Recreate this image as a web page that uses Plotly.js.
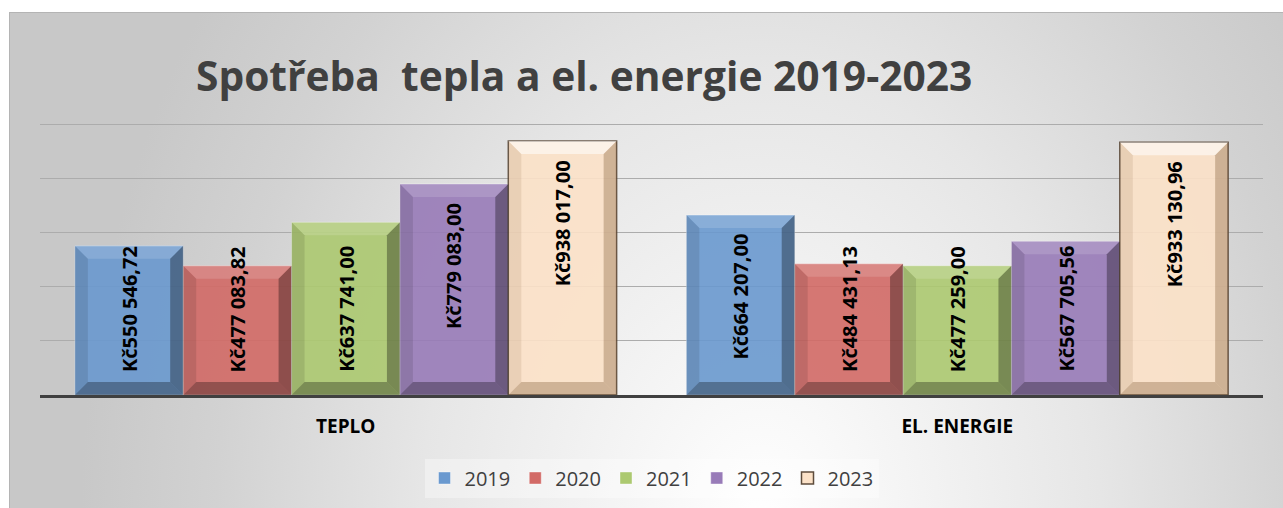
<!DOCTYPE html>
<html><head><meta charset="utf-8">
<script src="https://cdn.plot.ly/plotly-3.0.1.min.js"></script>
<style>
html,body{margin:0;padding:0;background:#fff;width:1283px;height:508px;overflow:hidden}
#bg{position:absolute;left:9px;top:12px;width:1290px;height:510px;border-top:1px solid #b4b4b4;border-left:1px solid #b4b4b4;
background:radial-gradient(ellipse 680px 900px at 751px 508px,#ffffff 0%,#f0f0f0 30%,#e6e6e6 50%,#d2d2d2 80%,#c8c8c8 100%);}
#chart{position:absolute;left:0;top:0;width:1283px;height:508px}
</style></head><body>
<div id="bg"></div><div id="chart"></div>
<script>
// ---- data ----
const categories = ['TEPLO', 'EL. ENERGIE'];
const years = ['2019', '2020', '2021', '2022', '2023'];
const v2019 = [550546.72, 664207.00];
const v2020 = [477083.82, 484431.13];
const v2021 = [637741.00, 477259.00];
const v2022 = [779083.00, 567705.56];
const v2023 = [938017.00, 933130.96];
const chartTitle = 'Spotřeba\u00a0 tepla a el. energie 2019-2023';

const series = [v2019, v2020, v2021, v2022, v2023];
const colors = ['#6A99CF', '#D26A66', '#ACC970', '#987BB8', '#FCE2C8'];
const lineColors = ['rgba(255,255,255,0.5)', 'rgba(255,255,255,0.5)', 'rgba(255,255,255,0.5)', 'rgba(255,255,255,0.5)', '#5e4c3c'];

function fmt(v) {
  const parts = v.toFixed(2).split('.');
  const int = parts[0].replace(/\B(?=(\d{3})+(?!\d))/g, ' ');
  return 'Kč' + int + ',' + parts[1];
}

const traces = series.map((vals, i) => ({
  type: 'bar', name: years[i], x: categories, y: vals,
  marker: {color: colors[i], opacity: 0.9, line: {color: lineColors[i], width: i === 4 ? 1.5 : 0.8}},
  hoverinfo: 'skip'
}));

const bargap = 0.114;
const layout = {
  width: 1283, height: 508,
  paper_bgcolor: 'rgba(0,0,0,0)', plot_bgcolor: 'rgba(0,0,0,0)',
  margin: {l: 40, r: 20, t: 123, b: 113},
  barmode: 'group', bargap: bargap, bargroupgap: 0,
  font: {family: 'Open Sans', color: '#404040'},
  title: {text: chartTitle, font: {family: 'Open Sans', size: 40.7, color: '#404040', weight: 700},
          xref: 'container', x: 196 / 1283, xanchor: 'left', yref: 'container', y: 1 - 77 / 508, yanchor: 'middle'},
  xaxis: {type: 'category', showgrid: false, showline: true, linecolor: '#404040', linewidth: 3,
          ticks: 'outside', ticklen: 12, tickcolor: 'rgba(0,0,0,0)', zeroline: false,
          tickfont: {family: 'Open Sans', size: 19, color: '#000000', weight: 700}},
  yaxis: {range: [0, 1004000], tick0: 0, dtick: 200000, showticklabels: false, ticks: '',
          gridcolor: '#acacac', gridwidth: 1, zeroline: false, showline: false},
  showlegend: true,
  legend: {orientation: 'h', xref: 'paper', x: 0.5, xanchor: 'center', yref: 'container', y: 1 - 478 / 508, yanchor: 'middle',
           font: {family: 'Open Sans', size: 20, color: '#404040'}, bgcolor: 'rgba(255,255,255,0.35)', traceorder: 'normal'},
  hovermode: false
};

const gd = document.getElementById('chart');
Plotly.newPlot(gd, traces, layout, {staticPlot: true}).then(() => {
  const xa = gd._fullLayout.xaxis, ya = gd._fullLayout.yaxis;
  const n = years.length;
  const slot = (1 - bargap) / n;
  const b = 13;
  const shapes = [], annotations = [];
  series.forEach((vals, i) => {
    vals.forEach((v, c) => {
      const xc = c - (1 - bargap) / 2 + (i + 0.5) * slot;
      const xl = xc - slot / 2, xr = xc + slot / 2;
      const W = xa.l2p(xr) - xa.l2p(xl);
      const H = ya.l2p(0) - ya.l2p(v);
      const base = {type: 'path', xref: 'x', yref: 'y', xsizemode: 'pixel', ysizemode: 'pixel',
                    xanchor: xl, yanchor: 0, line: {width: 0}, layer: 'above'};
      const light = i === 4 ? 'rgba(255,255,255,0.55)' : 'rgba(255,255,255,0.14)';
      shapes.push(Object.assign({}, base, {path: `M0,${H} L${W},${H} L${W - b},${H - b} L${b},${H - b} Z`, fillcolor: light}));
      shapes.push(Object.assign({}, base, {path: `M0,0 L0,${H} L${b},${H - b} L${b},${b} Z`, fillcolor: i === 4 ? 'rgba(120,80,40,0.12)' : 'rgba(0,0,0,0.1)'}));
      shapes.push(Object.assign({}, base, {path: `M${W},0 L${W},${H} L${W - b},${H - b} L${W - b},${b} Z`, fillcolor: i === 4 ? 'rgba(110,70,30,0.3)' : 'rgba(0,0,0,0.32)'}));
      shapes.push(Object.assign({}, base, {path: `M0,0 L${W},0 L${W - b},${b} L${b},${b} Z`, fillcolor: i === 4 ? 'rgba(110,70,30,0.3)' : 'rgba(0,0,0,0.3)'}));
      const fits = H >= 175;
      annotations.push({
        xref: 'x', yref: 'y', x: xc, y: fits ? v : 0, text: fmt(v), textangle: -90, showarrow: false,
        xanchor: 'center', yanchor: fits ? 'top' : 'bottom', yshift: fits ? -17 : 21,
        font: {family: 'Open Sans', size: 20, color: '#000000', weight: 700}
      });
    });
  });
  return Plotly.relayout(gd, {shapes: shapes, annotations: annotations});
});
</script>
</body></html>
